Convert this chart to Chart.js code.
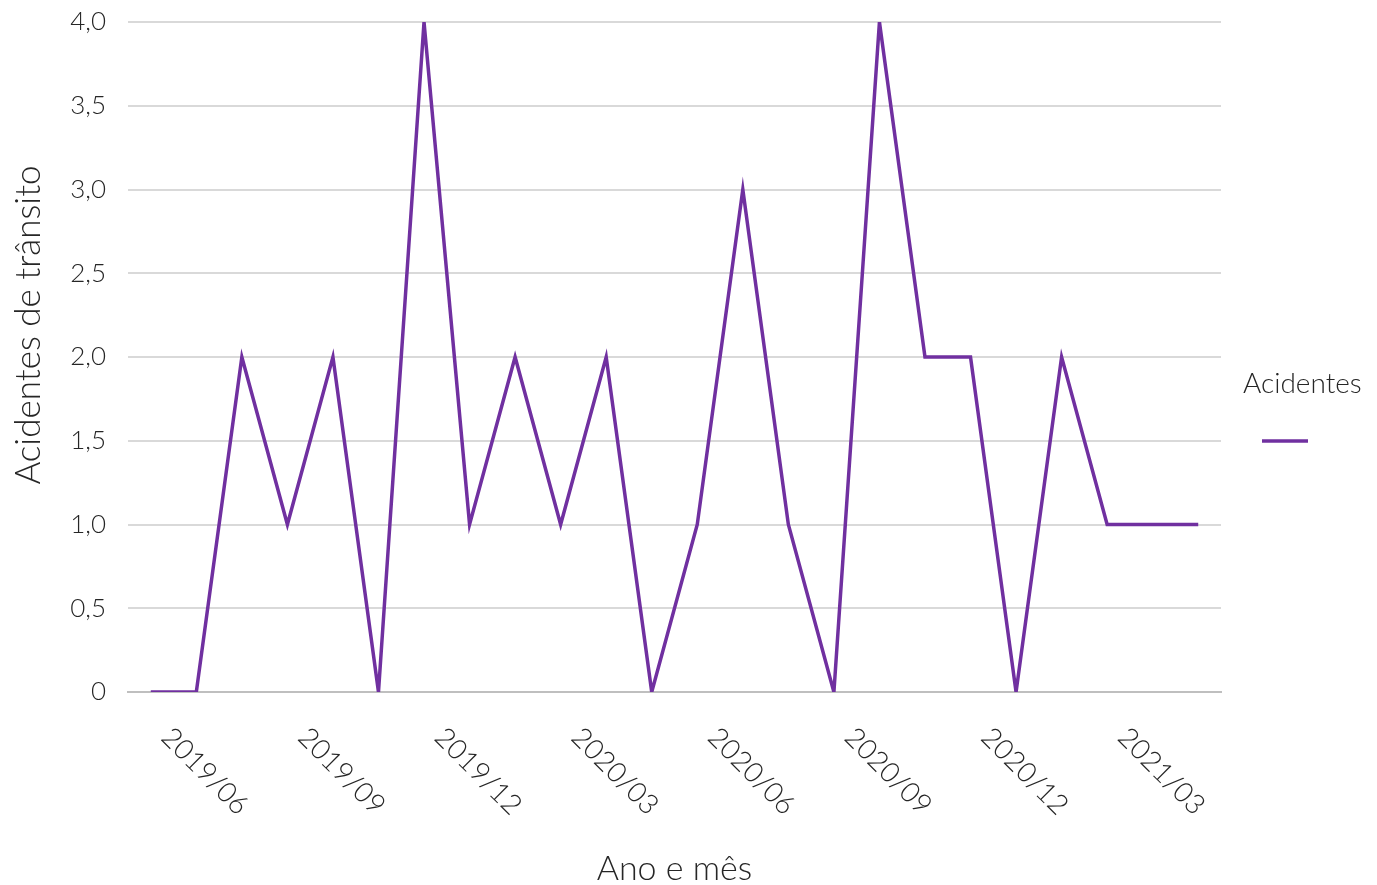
<!DOCTYPE html>
<html>
<head>
<meta charset="utf-8">
<script src="https://cdn.jsdelivr.net/npm/chart.js@4/dist/chart.umd.min.js"></script>
<style>
  html, body { margin: 0; padding: 0; background: #fff; }
  #wrap { width: 1377px; height: 885px; position: relative; }
</style>
</head>
<body>
<div id="wrap"><canvas id="chart"></canvas></div>
<script>
// months shown on the x axis (one point per month)
var months = [
   '2019/06', '2019/07', '2019/08', '2019/09', '2019/10', '2019/11', '2019/12',
   '2020/01', '2020/02', '2020/03', '2020/04', '2020/05', '2020/06', '2020/07',
   '2020/08', '2020/09', '2020/10', '2020/11', '2020/12', '2021/01', '2021/02',
   '2021/03', '2021/04', '2021/05'
];
var acidentes = [0, 0, 2, 1, 2, 0, 4, 1, 2, 1, 2, 0, 1, 3, 1, 0, 4, 2, 2, 0, 2, 1, 1, 1];
var tickLabels = ['2019/06', '2019/09', '2019/12', '2020/03', '2020/06', '2020/09', '2020/12', '2021/03'];
var yTicks = [0, 0.5, 1, 1.5, 2, 2.5, 3, 3.5, 4];

var TEXT = '#262626';
var FONT = 'Lato';

// axis titles, rotated month labels and the legend, drawn on top of the chart
var decor = {
   id: 'decor',
   afterDraw: function(chart) {
      var ctx = chart.ctx, a = chart.chartArea, x = chart.scales.x;
      ctx.save();
      ctx.fillStyle = TEXT;

      ctx.font = '300 28px ' + FONT;
      ctx.textAlign = 'left';
      ctx.textBaseline = 'alphabetic';
      months.forEach(function(m, i) {
         if (tickLabels.indexOf(m) < 0) return;
         var px = x.getPixelForValue(i);
         ctx.save();
         ctx.translate(px + 9, a.bottom + 47);
         ctx.rotate(Math.PI / 4);
         ctx.fillText(m, 0, 0);
         ctx.restore();
      });

      ctx.font = '300 34px ' + FONT;
      ctx.textAlign = 'center';
      ctx.fillText('Ano e mês', (a.left + a.right) / 2, 880);

      ctx.font = '300 35px ' + FONT;
      ctx.save();
      ctx.translate(40, 325);
      ctx.rotate(-Math.PI / 2);
      ctx.fillText('Acidentes de trânsito', 0, 0);
      ctx.restore();

      var ds = chart.data.datasets[0];
      ctx.font = '300 28px ' + FONT;
      ctx.textAlign = 'left';
      ctx.fillText(ds.label, 1243, 393);
      ctx.strokeStyle = ds.borderColor;
      ctx.lineWidth = 3.5;
      ctx.beginPath();
      ctx.moveTo(1262, 441);
      ctx.lineTo(1308, 441);
      ctx.stroke();

      ctx.restore();
   }
};

new Chart(document.getElementById('chart'), {
   type: 'line',
   data: {
      labels: months,
      datasets: [{
         label: 'Acidentes',
         data: acidentes,
         borderColor: '#7030A0',
         borderWidth: 3.5,
         pointRadius: 0,
         tension: 0,
         fill: false
      }]
   },
   options: {
      responsive: true,
      maintainAspectRatio: false,
      animation: false,
      layout: { padding: { top: 22, right: 156, left: 0, bottom: 0 } },
      plugins: {
         legend: { display: false },
         tooltip: { enabled: false }
      },
      scales: {
         x: {
            offset: true,
            grid: { display: false, drawTicks: false },
            border: { display: true, color: '#bfbfbf', width: 2 },
            ticks: { display: false },
            afterFit: function(s) { s.height = 193; s.paddingLeft = 0; s.paddingRight = 0; }
         },
         y: {
            min: 0,
            max: 4,
            afterBuildTicks: function(s) {
               s.ticks = yTicks.map(function(v) { return { value: v }; });
            },
            grid: { color: '#d9d9d9', lineWidth: 2, drawTicks: false },
            border: { display: false },
            ticks: {
               padding: 22,
               color: TEXT,
               font: { family: FONT, size: 26, weight: 300 },
               callback: function(v) { return v === 0 ? '0' : v.toFixed(1).replace('.', ','); }
            },
            afterFit: function(s) { s.width = 128; s.paddingTop = 0; s.paddingBottom = 0; }
         }
      }
   },
   plugins: [decor]
});
</script>
</body>
</html>
